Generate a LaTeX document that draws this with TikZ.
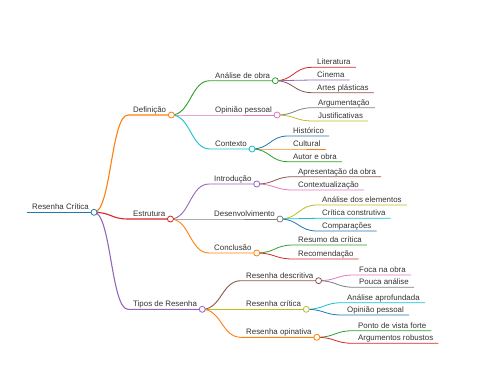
\documentclass[tikz,border=0pt]{standalone}
\usepackage{fontspec}
\setmainfont{Liberation Sans}
\usetikzlibrary{calc}

\definecolor{mmblue}{HTML}{1F77B4}
\definecolor{mmorange}{HTML}{FF7F0E}
\definecolor{mmgreen}{HTML}{2CA02C}
\definecolor{mmred}{HTML}{D62728}
\definecolor{mmpurple}{HTML}{9467BD}
\definecolor{mmbrown}{HTML}{8C564B}
\definecolor{mmpink}{HTML}{E377C2}
\definecolor{mmgray}{HTML}{7F7F7F}
\definecolor{mmolive}{HTML}{BCBD22}
\definecolor{mmcyan}{HTML}{17BECF}

% branch from parent circle to the child's underline
\newcommand{\mmedge}[3]{%
  \draw[#3] let \p1=(#1.south east), \p2=(#2.south west) in
    (\p1) .. controls ({(\x1+\x2)/2},\y1) and ({(\x1+\x2)/2},\y2) .. (\p2) -- (#2.south east);}
\newcommand{\mmdot}[2]{\filldraw[fill=white, draw=#2, line width=0.8pt] (#1.south east) circle (3pt);}

\begin{document}
\begin{tikzpicture}[
    x=1pt, y=-1pt,
    topic/.style={anchor=south west, inner xsep=5pt, inner ysep=1.5pt, text depth=1pt,
      text height=6pt, text=black!80, font=\fontsize{7.9}{9}\selectfont},
    lv0/.style={line width=1.6pt},
    lv1/.style={line width=1.1pt},
    lv2/.style={line width=0.9pt},
    lv3/.style={line width=0.8pt}
  ]
    \useasboundingbox (0,0) rectangle (480,384);

    \node[topic] (root) at (27,212.3) {Resenha Crítica};

    \node[topic] (def) at (128,115) {Definição};
    \node[topic] (obra) at (210,80.7) {Análise de obra};
    \node[topic] (lit) at (312,67.3) {Literatura};
    \node[topic] (cin) at (312,80) {Cinema};
    \node[topic] (art) at (312,92.7) {Artes plásticas};
    \node[topic] (opi) at (210,115) {Opinião pessoal};
    \node[topic] (arg) at (313,107.7) {Argumentação};
    \node[topic] (jus) at (313,121) {Justificativas};
    \node[topic] (ctx) at (210,149) {Contexto};
    \node[topic] (hist) at (288,136) {Histórico};
    \node[topic] (cult) at (288,149) {Cultural};
    \node[topic] (aut) at (288,161.7) {Autor e obra};

    \node[topic] (est) at (128,219) {Estrutura};
    \node[topic] (intro) at (209,184) {Introdução};
    \node[topic] (apr) at (293,176.7) {Apresentação da obra};
    \node[topic] (ctxz) at (293,190) {Contextualização};
    \node[topic] (dev) at (209,219) {Desenvolvimento};
    \node[topic] (ele) at (317,205) {Análise dos elementos};
    \node[topic] (crc) at (317,218.3) {Crítica construtiva};
    \node[topic] (comp) at (317,231) {Comparações};
    \node[topic] (conc) at (209,253) {Conclusão};
    \node[topic] (res) at (293,245) {Resumo da crítica};
    \node[topic] (rec) at (293,259) {Recomendação};

    \node[topic] (tipos) at (128,309.3) {Tipos de Resenha};
    \node[topic] (desc) at (241,280.7) {Resenha descritiva};
    \node[topic] (foca) at (354,275) {Foca na obra};
    \node[topic] (pouca) at (354,287.3) {Pouca análise};
    \node[topic] (crit) at (241,309.3) {Resenha crítica};
    \node[topic] (apro) at (342,302.7) {Análise aprofundada};
    \node[topic] (opp) at (342,315) {Opinião pessoal};
    \node[topic] (opin) at (241,337.3) {Resenha opinativa};
    \node[topic] (forte) at (353,330.7) {Ponto de vista forte};
    \node[topic] (rob) at (353,343.3) {Argumentos robustos};

    \draw[mmblue, lv0] (root.south west) -- (root.south east);

    \mmedge{root}{def}{mmorange, lv1}
    \mmedge{def}{obra}{mmgreen, lv2}
    \mmedge{obra}{lit}{mmred, lv3}
    \mmedge{obra}{cin}{mmpurple, lv3}
    \mmedge{obra}{art}{mmbrown, lv3}
    \mmedge{def}{opi}{mmpink, lv2}
    \mmedge{opi}{arg}{mmgray, lv3}
    \mmedge{opi}{jus}{mmolive, lv3}
    \mmedge{def}{ctx}{mmcyan, lv2}
    \mmedge{ctx}{hist}{mmblue, lv3}
    \mmedge{ctx}{cult}{mmorange, lv3}
    \mmedge{ctx}{aut}{mmgreen, lv3}

    \mmedge{root}{est}{mmred, lv1}
    \mmedge{est}{intro}{mmpurple, lv2}
    \mmedge{intro}{apr}{mmbrown, lv3}
    \mmedge{intro}{ctxz}{mmpink, lv3}
    \mmedge{est}{dev}{mmgray, lv2}
    \mmedge{dev}{ele}{mmolive, lv3}
    \mmedge{dev}{crc}{mmcyan, lv3}
    \mmedge{dev}{comp}{mmblue, lv3}
    \mmedge{est}{conc}{mmorange, lv2}
    \mmedge{conc}{res}{mmgreen, lv3}
    \mmedge{conc}{rec}{mmred, lv3}

    \mmedge{root}{tipos}{mmpurple, lv1}
    \mmedge{tipos}{desc}{mmbrown, lv2}
    \mmedge{desc}{foca}{mmpink, lv3}
    \mmedge{desc}{pouca}{mmgray, lv3}
    \mmedge{tipos}{crit}{mmolive, lv2}
    \mmedge{crit}{apro}{mmcyan, lv3}
    \mmedge{crit}{opp}{mmblue, lv3}
    \mmedge{tipos}{opin}{mmorange, lv2}
    \mmedge{opin}{forte}{mmgreen, lv3}
    \mmedge{opin}{rob}{mmred, lv3}

    \mmdot{root}{mmblue}
    \mmdot{def}{mmorange}
    \mmdot{obra}{mmgreen}
    \mmdot{opi}{mmpink}
    \mmdot{ctx}{mmcyan}
    \mmdot{est}{mmred}
    \mmdot{intro}{mmpurple}
    \mmdot{dev}{mmgray}
    \mmdot{conc}{mmorange}
    \mmdot{tipos}{mmpurple}
    \mmdot{desc}{mmbrown}
    \mmdot{crit}{mmolive}
    \mmdot{opin}{mmorange}
  \end{tikzpicture}
\end{document}
